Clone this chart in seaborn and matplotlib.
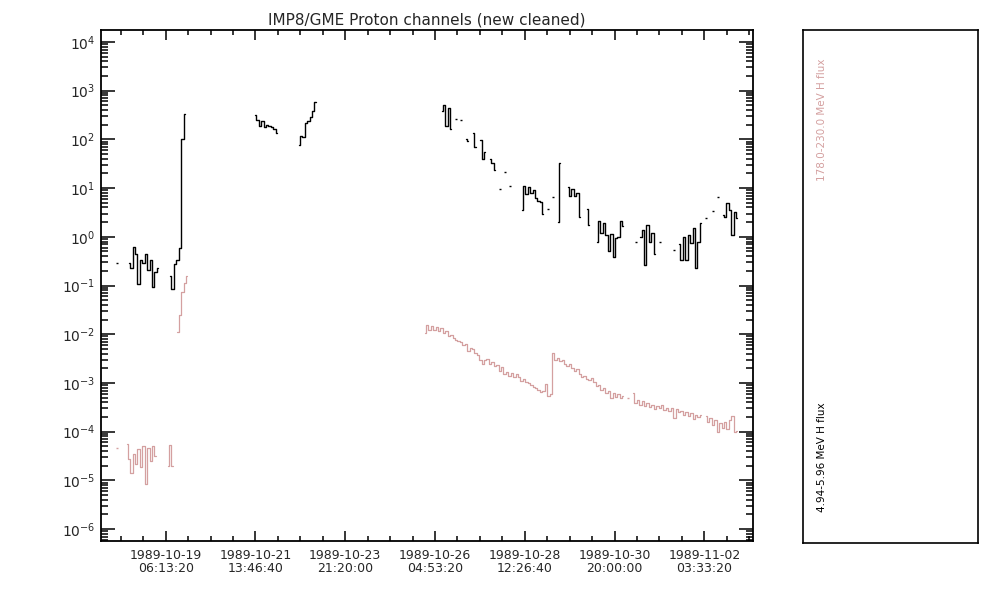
import numpy as np
import pandas as pd
import matplotlib
matplotlib.use("Agg")
import matplotlib.pyplot as plt
import matplotlib.dates as mdates
import matplotlib.ticker as mticker
import seaborn as sns

nan = float("nan")

# ---------------- data ----------------
title = "IMP8/GME Proton channels (new cleaned)"
low_label = "4.94-5.96 MeV H flux"
high_label = "178.0-230.0 MeV H flux"

start_time = "1989-10-18 00:00"   # first sample
cadence = "90min"                   # sampling interval

flux_low = [
    0.29, nan, nan, nan, nan, 0.29, 0.23, 0.62, 0.44, 0.11,
    0.33, 0.29, 0.45, 0.21, 0.34, 0.095, 0.19, 0.23, nan, nan,
    nan, nan, 0.16, 0.085, 0.28, 0.33, 0.6, 100, 330, nan,
    nan, nan, nan, nan, nan, nan, nan, nan, nan, nan,
    nan, nan, nan, nan, nan, nan, nan, nan, nan, nan,
    nan, nan, nan, nan, nan, nan, nan, 320, 250, 185,
    235, 180, 200, 190, 180, 165, 135, nan, nan, nan,
    nan, nan, nan, nan, nan, 77, 115, 110, 215, 240,
    290, 380, 590, nan, nan, nan, nan, nan, nan, nan,
    nan, nan, nan, nan, nan, nan, nan, nan, nan, nan,
    nan, nan, nan, nan, nan, nan, nan, nan, nan, nan,
    nan, nan, nan, nan, nan, nan, nan, nan, nan, nan,
    nan, nan, nan, nan, nan, nan, nan, nan, nan, nan,
    nan, nan, nan, nan, 380, 510, 190, 440, 165, nan,
    260, nan, 250, nan, 100, 94, nan, 134, 70, nan,
    97, 40, 56, nan, 39, 33, 24, nan, 9.7, nan,
    21, nan, 11.2, nan, nan, nan, nan, 3.6, 11, 7.5,
    10.5, 8, 9, 6.2, 5.5, 5.3, 2.9, nan, 3.7, nan,
    6.5, nan, 2.04, 32, nan, nan, 10.5, 6.8, 9.5, 7,
    8, 2.5, nan, nan, 3.8, 1.75, nan, nan, 0.79, 2.14,
    1.18, 1.9, 1.1, 0.5, 1.15, 0.39, 0.94, 1.0, 2.14, 1.67,
    nan, nan, nan, nan, 0.79, nan, 1.0, 1.38, 0.26, 1.75,
    0.8, 1.2, 0.45, nan, 0.79, nan, nan, nan, nan, nan,
    0.54, nan, 0.72, 0.33, 1.0, 0.33, 1.1, 0.75, 1.5, 0.23,
    0.8, 1.89, nan, 2.4, nan, nan, 3.43, nan, 6.5, nan,
    2.8, 2.6, 4.9, 3.5, 1.1, 3.2, 2.4,
]

flux_high = [
    4.7e-5, nan, nan, nan, 5.5e-5, 2.8e-5, 1.4e-5, 3.5e-5, 2.2e-5, 4.5e-5,
    1.9e-5, 5.0e-5, 8.5e-6, 4.6e-5, 2.5e-5, 5.2e-5, 3.2e-5, nan, nan, nan,
    nan, 2.0e-5, 5.3e-5, 2.0e-5, nan, 0.0112, 0.025, 0.075, 0.115, 0.16,
    nan, nan, nan, nan, nan, nan, nan, nan, nan, nan,
    nan, nan, nan, nan, nan, nan, nan, nan, nan, nan,
    nan, nan, nan, nan, nan, nan, nan, nan, nan, nan,
    nan, nan, nan, nan, nan, nan, nan, nan, nan, nan,
    nan, nan, nan, nan, nan, nan, nan, nan, nan, nan,
    nan, nan, nan, nan, nan, nan, nan, nan, nan, nan,
    nan, nan, nan, nan, nan, nan, nan, nan, nan, nan,
    nan, nan, nan, nan, nan, nan, nan, nan, nan, nan,
    nan, nan, nan, nan, nan, nan, nan, nan, nan, nan,
    nan, nan, nan, nan, nan, nan, nan, 0.0104, 0.0155, 0.0125,
    0.0145, 0.012, 0.014, 0.0115, 0.0135, 0.0105, 0.0115, 0.0092, 0.0098, 0.0085,
    0.0078, 0.0072, 0.0068, 0.0061, 0.0063, 0.0046, 0.0052, 0.0049, 0.0042, 0.0037,
    0.0029, 0.0024, 0.0030, 0.0031, 0.0025, 0.0027, 0.0022, 0.0023, 0.0018, 0.0021,
    0.0015, 0.0017, 0.0014, 0.0016, 0.0013, 0.0015, 0.0013, 0.0011, 0.0012, 0.00105,
    0.00098, 0.0009, 0.00083, 0.00078, 0.00072, 0.00065, 0.00068, 0.00095, 0.00055, 0.0006,
    0.0042, 0.0030, 0.0032, 0.0028, 0.0029, 0.0024, 0.0022, 0.0025, 0.0020, 0.0018,
    0.0019, 0.0015, 0.0013, 0.0014, 0.0012, 0.00115, 0.00125, 0.00105, 0.00085, 0.0009,
    0.00072, 0.00078, 0.00062, 0.00068, 0.0005, 0.00062, 0.00052, 0.00058, 0.0005, 0.00054,
    nan, 0.00049, nan, 0.00062, 0.00038, 0.00045, 0.00036, 0.00042, 0.00033, 0.00038,
    0.00032, 0.00035, 0.00029, 0.00034, 0.00031, 0.00036, 0.00028, 0.00031, 0.00026, 0.0003,
    0.00019, 0.00029, 0.00025, 0.00027, 0.00022, 0.00025, 0.00021, 0.00024, 0.00018, 0.00022,
    0.0002, 0.00022, nan, 0.00021, 0.00016, 0.00019, 0.00014, 0.00017, 0.0001, 0.00015,
    0.00012, 0.00016, 0.000115, 0.00017, 0.00021, 0.0001, 0.000105,
]

# x axis tick labelling (every 200000 s, minor every 50000 s)
tick_anchor = "1989-10-19 06:13:20"
major_step_s = 200000
minor_step_s = 50000

# ---------------- style ----------------
sns.set_style("ticks")
plt.rcParams["font.family"] = ["DejaVu Sans"]
plt.rcParams["axes.linewidth"] = 1.3

BLACK = "#000000"
PINK = "#d4a0a0"

times = pd.date_range(start_time, periods=len(flux_low), freq=cadence)


def make_frame(vals):
    v = np.asarray(vals, dtype=float)
    ok = ~np.isnan(v)
    seg = np.cumsum(~ok)
    df = pd.DataFrame({"time": times, "flux": v, "seg": seg})[ok]
    sizes = df.groupby("seg")["flux"].transform("size")
    return df[sizes > 1], df[sizes == 1]


fig = plt.figure(figsize=(10.04, 6.03), dpi=100)
ax = fig.add_axes([101 / 1004, 62 / 603, 652 / 1004, 511 / 603])
ax.set_yscale("log")

for vals, col, lw in ((flux_high, PINK, 0.9), (flux_low, BLACK, 1.0)):
    lines, dots = make_frame(vals)
    sns.lineplot(data=lines, x="time", y="flux", units="seg", estimator=None,
                 color=col, lw=lw, drawstyle="steps-mid", ax=ax, legend=False)
    if len(dots):
        sns.scatterplot(data=dots, x="time", y="flux", marker="_", s=3,
                        color=col, linewidth=1.0, ax=ax, legend=False)

# axis limits
anchor = pd.Timestamp(tick_anchor)
px_per_day = 38.78
x_left = anchor - pd.Timedelta(days=64.7 / px_per_day)
x_right = anchor + pd.Timedelta(days=587.3 / px_per_day)
ax.set_xlim(mdates.date2num(x_left), mdates.date2num(x_right))
ax.set_ylim(5.7e-7, 1.76e4)

majors = [anchor + pd.Timedelta(seconds=major_step_s * k) for k in range(0, 7)]
minors = [anchor + pd.Timedelta(seconds=minor_step_s * k) for k in range(-3, 30)]
ax.xaxis.set_major_locator(mticker.FixedLocator(mdates.date2num(majors)))
ax.xaxis.set_minor_locator(mticker.FixedLocator(mdates.date2num(minors)))
ax.xaxis.set_major_formatter(mticker.FuncFormatter(
    lambda v, p: mdates.num2date(v).strftime("%Y-%m-%d\n%H:%M:%S")))
ax.xaxis.set_minor_formatter(mticker.NullFormatter())

ax.yaxis.set_major_locator(mticker.LogLocator(base=10, numticks=20))
ax.yaxis.set_minor_locator(mticker.LogLocator(base=10, subs=np.arange(2, 10), numticks=20))
ax.yaxis.set_minor_formatter(mticker.NullFormatter())

ax.tick_params(axis="both", which="both", direction="in", top=True, right=True,
               color="black", width=1.1)
ax.tick_params(axis="x", which="major", length=7.5, labelsize=9, pad=6)
ax.tick_params(axis="x", which="minor", length=3.8)
ax.tick_params(axis="y", which="major", length=10, labelsize=10, pad=4)
ax.tick_params(axis="y", which="minor", length=5)
for lab in ax.get_xticklabels():
    lab.set_linespacing(0.95)
ax.xaxis.get_offset_text().set_visible(False)
ax.yaxis.get_offset_text().set_visible(False)

ax.set_xlabel(None)
ax.set_ylabel(None)
ax.xaxis.label.set_visible(False)
ax.yaxis.label.set_visible(False)
for s in ax.spines.values():
    s.set_color("black")
    s.set_visible(True)
ax.set_title(title, fontsize=11, pad=4)

# legend panel
lax = fig.add_axes([803 / 1004, 60 / 603, 175 / 1004, 513 / 603])
lax.set_xticks([])
lax.set_yticks([])
lax.xaxis.label.set_visible(False)
lax.yaxis.label.set_visible(False)
for s in lax.spines.values():
    s.set_color("black")
    s.set_linewidth(1.2)
    s.set_visible(True)
lax.text(0.11, 0.06, low_label, rotation=90, ha="center", va="bottom",
         color=BLACK, fontsize=7.5, transform=lax.transAxes)
lax.text(0.11, 0.945, high_label, rotation=90, ha="center", va="top",
         color=PINK, fontsize=7.5, transform=lax.transAxes)

fig.savefig("out.png", dpi=100, facecolor="white")
